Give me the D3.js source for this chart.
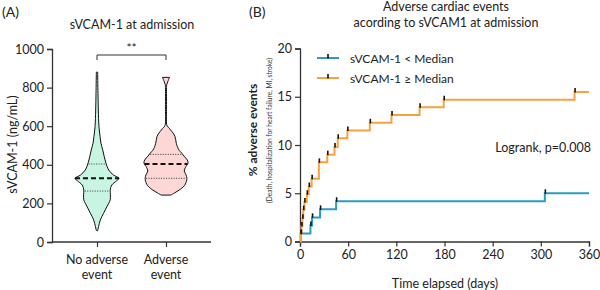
<!DOCTYPE html>
<html>
<head>
<meta charset="utf-8">
<script src="https://cdn.jsdelivr.net/npm/d3@7"></script>
<style>
  body { margin: 0; background: #fff; }
  svg { display: block; font-family: Lato, "Open Sans", sans-serif; }
</style>
</head>
<body>
<svg></svg>
<script>
const width = 600;
const height = 290;

// panel A data
const groups = ["No adverse event", "Adverse event"];
const yTicksA = [0, 200, 400, 600, 800, 1000];
// violin outlines: value (ng/mL) and relative density
const violinNoValues = [59, 79, 114, 149, 183, 218, 245, 269, 295, 318, 330, 347, 373, 408, 442, 477, 512, 546, 597, 684, 770, 880];
const violinNoDensity = [0.03, 0.07, 0.15, 0.3, 0.45, 0.6, 0.61, 0.6, 0.67, 0.9, 1.0, 0.75, 0.53, 0.41, 0.33, 0.26, 0.18, 0.14, 0.09, 0.06, 0.045, 0.03];
const violinAdvValues = [243, 255, 269, 285, 300, 330, 350, 368, 390, 408, 425, 445, 460, 475, 490, 511, 530, 546, 560, 572, 589, 600, 610, 700, 800, 813, 853];
const violinAdvDensity = [0.22, 0.4, 0.6, 0.78, 0.88, 0.95, 0.9, 0.83, 0.9, 1.0, 0.97, 0.82, 0.72, 0.6, 0.53, 0.47, 0.44, 0.41, 0.35, 0.27, 0.15, 0.06, 0.03, 0.025, 0.025, 0.03, 0.16];
const medians = [330, 404];
const q1s = [264, 330];
const q3s = [404, 454];

// panel B data
const xTicksB = [0, 60, 120, 180, 240, 300, 360];
const yTicksB = [0, 5, 10, 15, 20];
const seriesNames = ["sVCAM-1 < Median", "sVCAM-1 \u2265 Median"];
const lowDays = [1, 13, 15, 25, 45, 305];
const lowPct = [0.83, 1.67, 2.5, 3.33, 4.17, 5.0];
const highDays = [1, 1.8, 3, 4, 5.5, 8.5, 11, 14.5, 23.5, 34, 43, 47, 59, 87, 114, 149, 179, 342];
const highPct = [0.8, 1.6, 2.4, 3.3, 4.1, 4.9, 5.7, 6.5, 8.2, 9.0, 9.8, 10.7, 11.5, 12.3, 13.1, 13.9, 14.7, 15.5];
const followUp = 360;

const svg = d3.select("svg")
    .attr("width", width)
    .attr("height", height);

const axisColor = "#333";
const fills = ["#c8f5e1", "#fdd6d6"];
const colors = ["#2a9cc0", "#f9a13f"];

// ---------- panel A ----------
const xA = d3.scalePoint().domain(groups).range([97, 166]);
const yA = d3.scaleLinear().domain([0, 1000]).range([242, 49]);
const wA = d3.scaleLinear().domain([0, 1]).range([0, 22]);

svg.append("text").attr("x", 2).attr("y", 17)
    .attr("font-size", 14).attr("fill", "#222").text("(A)");
svg.append("text").attr("x", 132).attr("y", 29).attr("text-anchor", "middle")
    .attr("font-size", 12.5).attr("fill", "#222").text("sVCAM-1 at admission");

svg.append("g")
    .attr("transform", "translate(52,0)")
    .call(d3.axisLeft(yA).tickValues(yTicksA).tickSize(5).tickPadding(3).tickFormat(d3.format("d")));
const gxA = svg.append("g")
    .attr("transform", "translate(0,242)")
    .call(d3.axisBottom(xA).tickSize(5).tickFormat(""));
gxA.select(".domain").attr("d", "M52,0H211");

groups.forEach((g, i) => {
    const words = g.split(" ");
    const lines = [words.slice(0, -1).join(" "), words[words.length - 1]];
    const t = svg.append("text").attr("text-anchor", "middle")
        .attr("font-size", 12.5).attr("fill", "#222");
    lines.forEach((l, j) => t.append("tspan").attr("x", xA(g)).attr("y", 263.5 + j * 15).text(l));
});

svg.append("text")
    .attr("transform", `translate(16.5,${yA(505)}) rotate(-90)`)
    .attr("text-anchor", "middle").attr("font-size", 12.5).attr("fill", "#222")
    .text("sVCAM-1 (ng/mL)");

const violins = [
    { values: violinNoValues, dens: violinNoDensity },
    { values: violinAdvValues, dens: violinAdvDensity }
];

violins.forEach((v, i) => {
    const cx = xA(groups[i]);
    const pts = v.values.map((val, k) => [val, v.dens[k]]);
    const area = d3.area()
        .y(d => yA(d[0]))
        .x0(d => cx - wA(d[1]))
        .x1(d => cx + wA(d[1]))
        .curve(d3.curveCatmullRom.alpha(0.5));
    svg.append("path")
        .attr("d", area(pts))
        .attr("fill", fills[i])
        .attr("stroke", "#111")
        .attr("stroke-width", 1);

    const densAt = d3.scaleLinear().domain(v.values).range(v.dens);
    [q1s[i], q3s[i]].forEach(q => {
        const w = wA(densAt(q)) - 1;
        svg.append("line")
            .attr("x1", cx - w).attr("x2", cx + w)
            .attr("y1", yA(q)).attr("y2", yA(q))
            .attr("stroke", "#333").attr("stroke-width", 1)
            .attr("stroke-dasharray", "1,1.5");
    });
    const wm = wA(densAt(medians[i]));
    svg.append("line")
        .attr("x1", cx - wm).attr("x2", cx + wm)
        .attr("y1", yA(medians[i])).attr("y2", yA(medians[i]))
        .attr("stroke", "#111").attr("stroke-width", 2)
        .attr("stroke-dasharray", "5,3");
});

// significance bracket
svg.append("path")
    .attr("d", `M${xA(groups[0])},60V55H${xA(groups[1])}V60`)
    .attr("fill", "none").attr("stroke", axisColor).attr("stroke-width", 1);
svg.append("text").attr("x", (xA(groups[0]) + xA(groups[1])) / 2).attr("y", 52)
    .attr("text-anchor", "middle").attr("font-size", 12).attr("fill", "#222").text("**");

// ---------- panel B ----------
const xB = d3.scaleLinear().domain([0, 360]).range([300, 589]);
const yB = d3.scaleLinear().domain([0, 20]).range([241.5, 48.5]);

svg.append("text").attr("x", 249).attr("y", 17)
    .attr("font-size", 14).attr("fill", "#222").text("(B)");
const title = svg.append("text").attr("text-anchor", "middle")
    .attr("font-size", 12.5).attr("fill", "#222");
title.append("tspan").attr("x", 446).attr("y", 11).text("Adverse cardiac events");
title.append("tspan").attr("x", 446).attr("y", 27).text("acording to sVCAM1 at admission");

svg.append("g")
    .attr("transform", "translate(300,0)")
    .call(d3.axisLeft(yB).tickValues(yTicksB).tickSize(5).tickPadding(3));
svg.append("g")
    .attr("transform", "translate(0,241.5)")
    .call(d3.axisBottom(xB).tickValues(xTicksB).tickSize(5).tickPadding(4));

svg.append("text").attr("x", 445).attr("y", 287.5).attr("text-anchor", "middle")
    .attr("font-size", 12.5).attr("fill", "#222").text("Time elapsed (days)");

svg.append("text")
    .attr("transform", "translate(257,130) rotate(-90)")
    .attr("text-anchor", "middle").attr("font-size", 12).attr("font-weight", "bold")
    .attr("fill", "#222").text("% adverse events");
svg.append("text")
    .attr("transform", "translate(271.5,130.5) rotate(-90)")
    .attr("text-anchor", "middle").attr("font-size", 6.6).attr("fill", "#333")
    .text("(Death, hospitalization for heart failure, MI, stroke)");

const step = d3.line()
    .x(d => xB(d[0]))
    .y(d => yB(d[1]))
    .curve(d3.curveStepAfter);

const curves = [
    { days: lowDays, pct: lowPct },
    { days: highDays, pct: highPct }
];

curves.forEach((c, i) => {
    const pts = [[0, 0]].concat(c.days.map((d, k) => [d, c.pct[k]]));
    pts.push([followUp, c.pct[c.pct.length - 1]]);
    svg.append("path")
        .attr("d", step(pts))
        .attr("fill", "none")
        .attr("stroke", colors[i])
        .attr("stroke-width", 2);
});

curves.forEach(c => {
    svg.append("g").selectAll("line")
        .data(c.days.map((d, k) => [d, c.pct[k]]))
        .join("line")
        .attr("x1", d => xB(d[0]) + 0.5).attr("x2", d => xB(d[0]) + 0.5)
        .attr("y1", d => yB(d[1]) - 4).attr("y2", d => yB(d[1]) + 0.5)
        .attr("stroke", "#111").attr("stroke-width", 1.6);
});

// legend
seriesNames.forEach((name, i) => {
    const y = 58 + i * 20;
    svg.append("line").attr("x1", 317).attr("x2", 339).attr("y1", y).attr("y2", y)
        .attr("stroke", colors[i]).attr("stroke-width", 2);
    svg.append("line").attr("x1", 328).attr("x2", 328).attr("y1", y - 4).attr("y2", y + 0.5)
        .attr("stroke", "#111").attr("stroke-width", 1.6);
    svg.append("text").attr("x", 350).attr("y", y + 4.5)
        .attr("font-size", 12).attr("fill", "#222").text(name);
});

svg.append("text").attr("x", 591).attr("y", 151.5).attr("text-anchor", "end")
    .attr("font-size", 12.5).attr("fill", "#222").text("Logrank, p=0.008");

// axis styling
svg.selectAll(".domain").attr("stroke", axisColor).attr("stroke-width", 1.3);
svg.selectAll(".tick line").attr("stroke", axisColor).attr("stroke-width", 1.2);
svg.selectAll(".tick text").attr("font-size", 12.5).attr("fill", "#222")
    .attr("font-family", "Lato, 'Open Sans', sans-serif");
</script>
</body>
</html>
